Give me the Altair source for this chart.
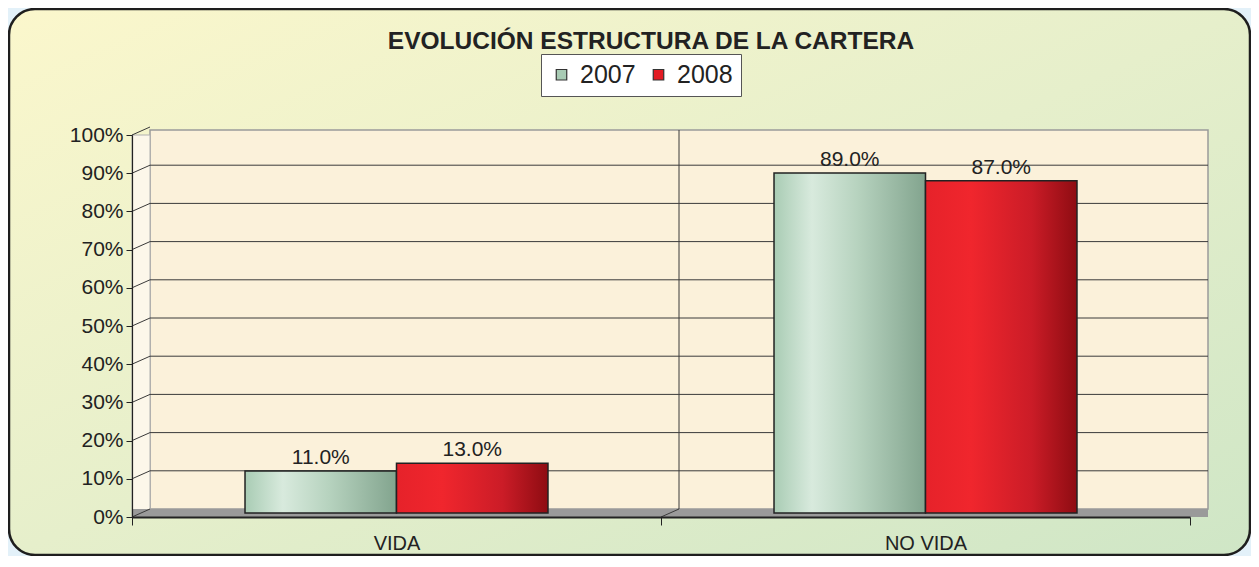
import altair as alt
import pandas as pd

# ---- data ----
categories = ["VIDA", "NO VIDA"]
years = ["2007", "2008"]
values_2007 = [11.0, 89.0]
values_2008 = [13.0, 87.0]
tick_values = [0, 10, 20, 30, 40, 50, 60, 70, 80, 90, 100]
title_text = "EVOLUCIÓN ESTRUCTURA DE LA CARTERA"

rows = []
for c, v in zip(categories, values_2007):
    rows.append({"cat": c, "year": "2007", "value": v, "label": f"{v:.1f}%"})
for c, v in zip(categories, values_2008):
    rows.append({"cat": c, "year": "2008", "value": v, "label": f"{v:.1f}%"})
bars_df = pd.DataFrame(rows)
ticks_df = pd.DataFrame({"v": tick_values})
grid_df = pd.DataFrame({"v": tick_values[1:-1]})
one = pd.DataFrame({"a": [0]})
title_df = pd.DataFrame({"t": [title_text]})

W, H = 1058, 382
DX, DY = 18, 8  # 3D depth offset
FONT = "Liberation Sans"

yscale = alt.Scale(domain=[0, 100], nice=False, zero=True)
yaxis = alt.Axis(
    values=tick_values, labelExpr="datum.value + '%'", title=None, grid=False,
    labelFontSize=21, labelColor="#222", labelFont=FONT,
    tickSize=6, tickColor="#222", domainColor="#222", domainWidth=1.2,
    labelPadding=3, zindex=2,
)
xscale = alt.Scale(domain=categories, paddingInner=0, paddingOuter=0)
xaxis = alt.Axis(
    title=None, labelAngle=0, tickBand="extent", labelFontSize=20,
    labelColor="#222", labelFont=FONT, tickSize=8,
    tickColor="#222", domainColor="#222", domainWidth=2, labelPadding=8,
    grid=False, zindex=2,
)
xoff_scale = alt.Scale(domain=years, paddingInner=0, paddingOuter=0.746)

frame = alt.Chart(one).mark_rect(
    cornerRadius=26,
    fill=alt.Gradient(
        gradient="linear", x1=0, y1=0, x2=1, y2=1,
        stops=[
            alt.GradientStop(offset=0, color="#fbf7cc"),
            alt.GradientStop(offset=0.5, color="#e6efcb"),
            alt.GradientStop(offset=1, color="#cfe6c6"),
        ],
    ),
    stroke="#1e1e1e", strokeWidth=2.5,
).encode(x=alt.value(-123), x2=alt.value(1118), y=alt.value(-126), y2=alt.value(420))

title = alt.Chart(title_df).mark_text(
    font=FONT, fontSize=24.5, fontWeight="bold", color="#222",
    align="center", baseline="alphabetic",
).encode(x=alt.value(W / 2 - 10), y=alt.value(-86), text="t:N")

wall = alt.Chart(one).mark_rect(fill="#fbf1da", stroke="#9a9a9a", strokeWidth=1.5).encode(
    x=alt.value(DX), x2=alt.value(W + DX), y=alt.value(-5), y2=alt.value(H - DY)
)
side = alt.Chart(one).mark_rect(fill="#fcf7ea", stroke="#b0b0b0", strokeWidth=1).encode(
    x=alt.value(0), x2=alt.value(DX), y=alt.value(0), y2=alt.value(H)
)
floor = alt.Chart(one).mark_rect(fill="#9a9a9a").encode(
    x=alt.value(0), x2=alt.value(W + DX), y=alt.value(H - DY), y2=alt.value(H)
)

grid = alt.Chart(grid_df).mark_rule(color="#3a3a3a", strokeWidth=1, yOffset=-DY).encode(
    y=alt.Y("v:Q", scale=yscale, axis=yaxis),
    x=alt.value(DX), x2=alt.value(W + DX),
)
connectors = alt.Chart(ticks_df).mark_rule(color="#3a3a3a", strokeWidth=1, y2Offset=-DY).encode(
    y=alt.Y("v:Q", scale=yscale, axis=yaxis),
    y2=alt.Y2("v"),
    x=alt.value(0), x2=alt.value(DX),
)
divider = alt.Chart(one).mark_rule(color="#3a3a3a", strokeWidth=1).encode(
    x=alt.value(W / 2 + DX), y=alt.value(-5), y2=alt.value(H - DY)
)
divider_conn = alt.Chart(one).mark_rule(color="#3a3a3a", strokeWidth=1).encode(
    x=alt.value(W / 2), x2=alt.value(W / 2 + DX), y=alt.value(H), y2=alt.value(H - DY)
)

bar_common = dict(xOffset=9, x2Offset=9, yOffset=-4, y2Offset=-4)

flat_bars = alt.Chart(bars_df).mark_bar(**bar_common).encode(
    x=alt.X("cat:N", scale=xscale, axis=xaxis, sort=categories),
    xOffset=alt.XOffset("year:N", scale=xoff_scale, sort=years),
    y=alt.Y("value:Q", scale=yscale, axis=yaxis),
    color=alt.Color(
        "year:N",
        scale=alt.Scale(domain=years, range=["#a8cbb4", "#e31b23"]),
        legend=alt.Legend(
            title=None, orient="none", direction="horizontal",
            legendX=409, legendY=-81, fillColor="white", strokeColor="#555",
            padding=8, symbolType="square", symbolSize=110,
            symbolStrokeColor="#333", symbolStrokeWidth=1.2,
            labelFontSize=25, labelFont=FONT, labelColor="#222",
            columnPadding=10, labelOffset=6, zindex=2,
        ),
    ),
)

green_grad = alt.Gradient(
    gradient="linear", x1=0, y1=0, x2=1, y2=0,
    stops=[
        alt.GradientStop(offset=0, color="#a9ccb4"),
        alt.GradientStop(offset=0.25, color="#d8eadd"),
        alt.GradientStop(offset=0.55, color="#b7d3bf"),
        alt.GradientStop(offset=1, color="#82a48e"),
    ],
)
red_grad = alt.Gradient(
    gradient="linear", x1=0, y1=0, x2=1, y2=0,
    stops=[
        alt.GradientStop(offset=0, color="#e6222a"),
        alt.GradientStop(offset=0.3, color="#f0262d"),
        alt.GradientStop(offset=0.7, color="#cb1c27"),
        alt.GradientStop(offset=1, color="#8e0c12"),
    ],
)

def shaded(year, grad):
    return alt.Chart(bars_df).transform_filter(alt.datum.year == year).mark_bar(
        fill=grad, stroke="#222", strokeWidth=1.5, **bar_common
    ).encode(
        x=alt.X("cat:N", scale=xscale, axis=xaxis, sort=categories),
        xOffset=alt.XOffset("year:N", scale=xoff_scale, sort=years),
        y=alt.Y("value:Q", scale=yscale, axis=yaxis),
    )

labels = alt.Chart(bars_df).mark_text(
    fontSize=21, font=FONT, color="#222", baseline="alphabetic",
    dy=-7, xOffset=9, yOffset=-4,
).encode(
    x=alt.X("cat:N", scale=xscale, axis=xaxis, sort=categories),
    xOffset=alt.XOffset("year:N", scale=xoff_scale, sort=years),
    y=alt.Y("value:Q", scale=yscale, axis=yaxis),
    text="label:N",
)

chart = alt.layer(
    frame, title, wall, side, floor, grid, connectors, divider, divider_conn,
    flat_bars, shaded("2007", green_grad), shaded("2008", red_grad), labels,
).properties(
    width=W, height=H,
    autosize=alt.AutoSizeParams(type="none"),
    padding={"left": 124, "top": 127, "right": 61, "bottom": 39},
    background="#e3f1f9",
).configure_view(stroke=None)

chart.save("out.html", embed_options={"renderer": "svg", "actions": False})
